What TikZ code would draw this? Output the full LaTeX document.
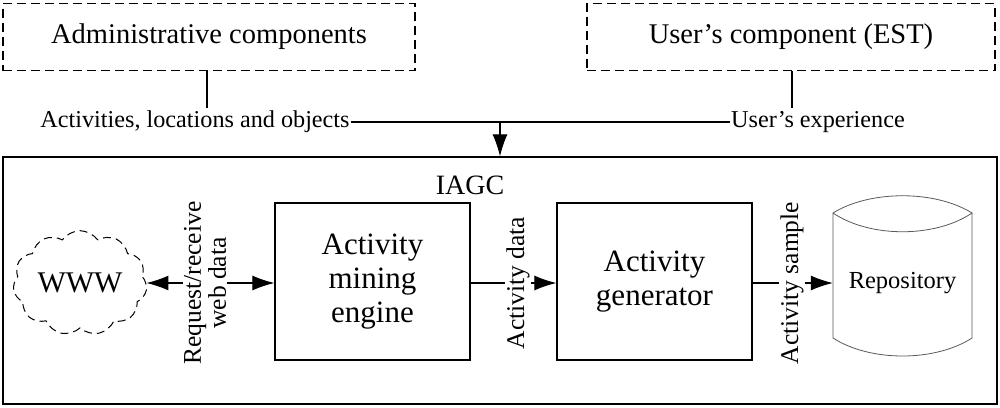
\documentclass[tikz,border=0pt]{standalone}
\usepackage{fontspec}
\setmainfont{Liberation Serif}
\usetikzlibrary{shapes.symbols,arrows.meta}
\begin{document}
\begin{tikzpicture}[x=1pt,y=-1pt,
  dbox/.style={draw,dashed,dash pattern=on 9pt off 5pt,line width=1.3pt,minimum width=412pt,minimum height=67pt,font=\fontsize{28.5}{32}\selectfont},
  box/.style={draw,line width=1.2pt,minimum width=195pt,minimum height=157pt,align=center,font=\fontsize{31}{34}\selectfont},
  lab/.style={font=\fontsize{24.2}{28}\selectfont,inner sep=1pt},
  rlab/.style={font=\fontsize{25.5}{25}\selectfont,rotate=90,align=center,inner sep=1pt},
  arr/.style={line width=1.1pt,-{Latex[length=22pt,width=15pt]}},
  ln/.style={line width=1.1pt}]
\useasboundingbox (0,0) rectangle (1000,407);
\node[dbox] (adm) at (209,37) {Administrative components};
\node[dbox,minimum width=408pt] (usr) at (791,37) {User’s component (EST)};
\node[lab] (l1) at (195,122) {Activities, locations and objects};
\node[lab] (l2) at (818,122) {User’s experience};
\draw[ln] (adm.south -| 207,0) -- (207,108);
\draw[ln] (usr.south -| 792,0) -- (792,108);
\draw[ln] (l1.east |- 0,122) -- (l2.west |- 0,122);
\node[draw,line width=1.3pt,minimum width=994pt,minimum height=247pt] (iagc) at (500,280.5) {};
\coordinate (top) at (500,122);
\draw[arr] (top) -- (iagc.north);
\node[font=\fontsize{28}{32}\selectfont] (iagclab) at (470,185) {IAGC};
\node[cloud,draw,dashed,dash pattern=on 8pt off 5pt,line width=1pt,cloud puffs=11,cloud puff arc=110,minimum width=128pt,minimum height=92pt,aspect=1.4,font=\fontsize{30}{34}\selectfont,inner sep=2pt] (www) at (80,283) {WWW};
\node[box] (mine) at (372.5,281.5) {Activity\\mining\\engine};
\node[box] (gen) at (654.5,281.5) {Activity\\generator};
\node[rlab] (rr) at (205,283) {Request/receive\\web data};
\node[rlab] (ad) at (518,283) {Activity data};
\node[rlab] (as) at (792,283) {Activity sample};
\draw[arr] (rr.north |- 0,283) -- (www.east |- 0,283);
\draw[arr] (rr.south |- 0,283) -- (mine.west |- 0,283);
\draw[ln] (mine.east |- 0,283) -- (ad.north |- 0,283);
\draw[arr] (ad.south |- 0,283) -- (gen.west |- 0,283);
\draw[ln] (gen.east |- 0,283) -- (as.north |- 0,283);
\node[minimum width=139pt,minimum height=155pt,font=\fontsize{24.5}{28}\selectfont] (rep) at (902.5,283) {Repository};
\draw[gray!70!black,line width=0.8pt] (833,213) .. controls (870,190) and (935,190) .. (972,213)
  .. controls (935,238) and (870,238) .. (833,213) -- (833,338)
  .. controls (870,362) and (935,362) .. (972,338) -- (972,213);
\draw[arr] (as.south |- 0,283) -- (rep.west |- 0,283);
\end{tikzpicture}
\end{document}
